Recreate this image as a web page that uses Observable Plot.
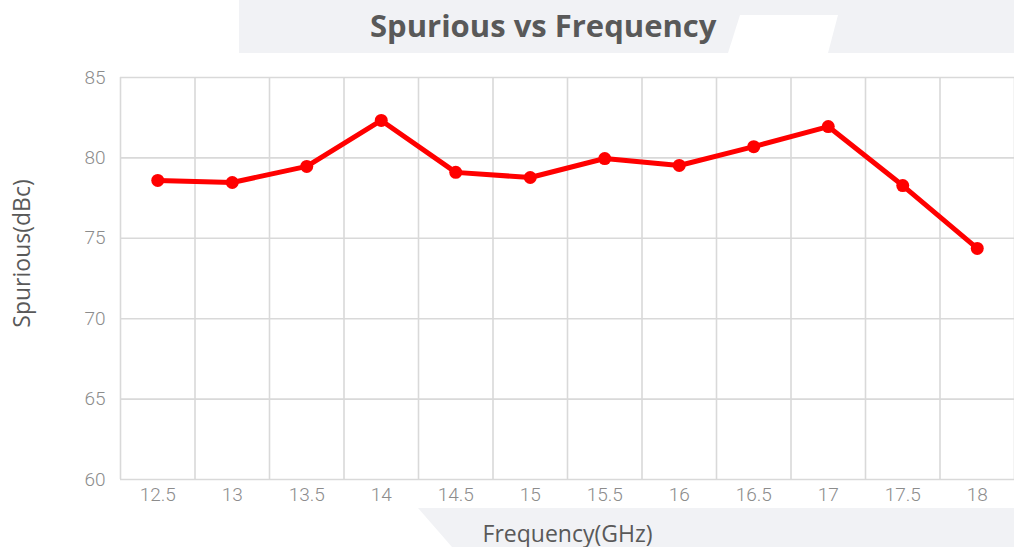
<!DOCTYPE html>
<html>
<head>
<meta charset="utf-8">
<script src="https://cdn.jsdelivr.net/npm/d3@7"></script>
<script src="https://cdn.jsdelivr.net/npm/@observablehq/plot@0.6"></script>
<style>
  html, body { margin: 0; padding: 0; background: #ffffff; }
  #wrap { position: relative; width: 1014px; height: 547px; overflow: hidden; }
  .band { position: absolute; background: #f1f2f5; }
  #topband { left: 0; top: 0; width: 1014px; height: 53px;
    clip-path: polygon(239px 0, 1014px 0, 1014px 53px, 239px 53px); }
  #topcut { left: 0; top: 0; width: 1014px; height: 53px; background: #ffffff;
    clip-path: polygon(740px 15px, 838px 15px, 828px 53px, 728px 53px); }
  #botband { left: 0; top: 508px; width: 1014px; height: 39px;
    clip-path: polygon(418px 0, 1014px 0, 1014px 39px, 452px 39px); }
  #title { position: absolute; left: 0; top: 0; width: 1014px; height: 53px;
    font-family: "Open Sans", sans-serif; font-weight: 700; font-size: 31px; color: #595959;
    line-height: 50px; text-align: left; padding-left: 370px; box-sizing: border-box; white-space: nowrap; }
  #chart { position: absolute; left: 0; top: 53px; }
</style>
</head>
<body>
<div id="wrap">
  <div class="band" id="topband"></div>
  <div class="band" id="topcut"></div>
  <div class="band" id="botband"></div>
  <div id="title">Spurious vs Frequency</div>
  <div id="chart"></div>
</div>
<script>
// Data
const freqs = [12.5, 13, 13.5, 14, 14.5, 15, 15.5, 16, 16.5, 17, 17.5, 18];
const tickLabels = ["12.5", "13", "13.5", "14", "14.5", "15", "15.5", "16", "16.5", "17", "17.5", "18"];
const spurious = [78.6, 78.47, 79.47, 82.33, 79.1, 78.78, 79.96, 79.53, 80.7, 81.95, 78.28, 74.37];
const yTicks = [60, 65, 70, 75, 80, 85];
const xBounds = [12.25, 12.75, 13.25, 13.75, 14.25, 14.75, 15.25, 15.75, 16.25, 16.75, 17.25, 17.75, 18.25];

const data = freqs.map((f, i) => ({f, v: spurious[i]}));

const chart = Plot.plot({
  width: 1014,
  height: 494,
  marginTop: 24,
  marginBottom: 68,
  marginLeft: 120,
  marginRight: 0,
  style: {background: "transparent", overflow: "visible", fontFamily: "Roboto, sans-serif"},
  x: {type: "linear", domain: [12.25, 18.25], axis: null},
  y: {type: "linear", domain: [60, 85], axis: null},
  marks: [
    Plot.ruleY(yTicks, {y: d => d, stroke: "#d9d9d9", strokeWidth: 1.6, strokeOpacity: 1}),
    Plot.ruleX(xBounds, {x: d => d, stroke: "#d9d9d9", strokeWidth: 1.6, strokeOpacity: 1}),
    Plot.text(freqs, {x: d => d, frameAnchor: "bottom", dy: 21, text: tickLabels,
      fill: "#8c8c8c", fontSize: 19, fontWeight: 300}),
    Plot.text(yTicks, {y: d => d, frameAnchor: "left", dx: -15, textAnchor: "end", text: d => String(d),
      fill: "#8c8c8c", fontSize: 19, fontWeight: 300}),
    Plot.line(data, {x: "f", y: "v", stroke: "#ff0000", strokeWidth: 5, curve: "linear"}),
    Plot.dot(data, {x: "f", y: "v", r: 6.5, fill: "#ff0000", stroke: "none"}),
    Plot.text(["Frequency(GHz)"], {frameAnchor: "bottom", dy: 62, text: d => d, textAnchor: "middle",
      fill: "#595959", fontSize: 23, fontFamily: "Open Sans, sans-serif"}),
    Plot.text(["Spurious(dBc)"], {frameAnchor: "left", dx: -98, dy: -25, rotate: -90, text: d => d,
      textAnchor: "middle", fill: "#595959", fontSize: 23, fontFamily: "Open Sans, sans-serif"})
  ]
});
document.getElementById("chart").appendChild(chart);
</script>
</body>
</html>
